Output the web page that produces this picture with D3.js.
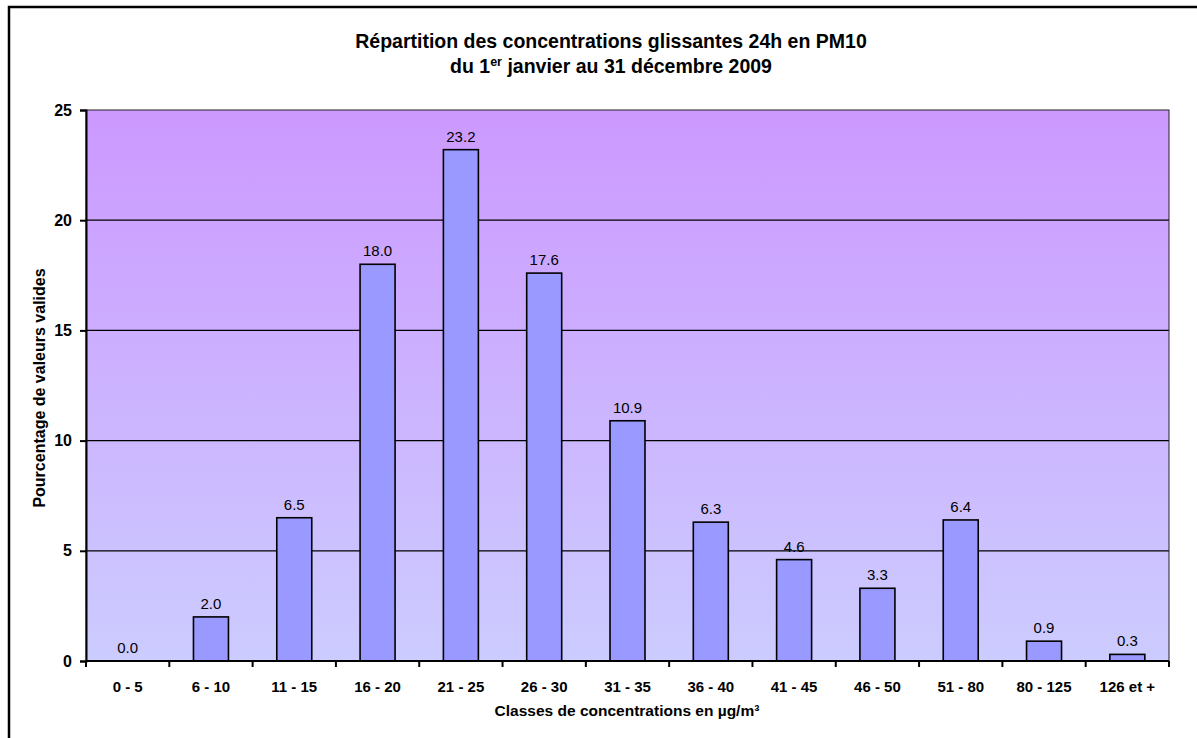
<!DOCTYPE html>
<html>
<head>
<meta charset="utf-8">
<script src="https://cdn.jsdelivr.net/npm/d3@7"></script>
<style>
  html, body { margin: 0; padding: 0; background: #fff; }
  svg { display: block; font-family: "Liberation Sans", Arial, sans-serif; }
</style>
</head>
<body>
<svg id="chart" width="1197" height="738"></svg>
<script>
// Concentration classes (µg/m³) and share of valid 24h sliding values (%)
const categories = ["0 - 5", "6 - 10", "11 - 15", "16 - 20", "21 - 25", "26 - 30",
  "31 - 35", "36 - 40", "41 - 45", "46 - 50", "51 - 80", "80 - 125", "126 et +"];
const percentages = [0.0, 2.0, 6.5, 18.0, 23.2, 17.6, 10.9, 6.3, 4.6, 3.3, 6.4, 0.9, 0.3];
const yTicks = [0, 5, 10, 15, 20, 25];

const svg = d3.select("#chart");
const plot = { left: 86, top: 110, right: 1169, bottom: 661 };

// Outer frame (runs off the right and bottom edges)
svg.append("rect")
  .attr("x", 9).attr("y", 7)
  .attr("width", 1400).attr("height", 1000)
  .attr("fill", "none").attr("stroke", "#000").attr("stroke-width", 2.5);

const x = d3.scaleBand()
  .domain(categories)
  .range([plot.left, plot.right])
  .paddingInner(0.58)
  .paddingOuter(0.29);

const y = d3.scaleLinear()
  .domain([0, 25])
  .range([plot.bottom, plot.top]);

// Plot background: vertical gradient from light lavender to violet
const defs = svg.append("defs");
const grad = defs.append("linearGradient")
  .attr("id", "bg").attr("x1", 0).attr("y1", 1).attr("x2", 0).attr("y2", 0);
grad.append("stop").attr("offset", "0%").attr("stop-color", "#ccccff");
grad.append("stop").attr("offset", "100%").attr("stop-color", "#cc99ff");

svg.append("rect")
  .attr("x", plot.left).attr("y", plot.top)
  .attr("width", plot.right - plot.left)
  .attr("height", plot.bottom - plot.top)
  .attr("fill", "url(#bg)");

// Horizontal gridlines
svg.append("g")
  .selectAll("line")
  .data(yTicks.filter(t => t > 0 && t < 25))
  .join("line")
  .attr("x1", plot.left).attr("x2", plot.right)
  .attr("y1", d => y(d)).attr("y2", d => y(d))
  .attr("stroke", "#000").attr("stroke-width", 1.3);

// Plot area border
svg.append("rect")
  .attr("x", plot.left).attr("y", plot.top)
  .attr("width", plot.right - plot.left)
  .attr("height", plot.bottom - plot.top)
  .attr("fill", "none").attr("stroke", "#222").attr("stroke-width", 1);

// Bars
svg.append("g")
  .selectAll("rect")
  .data(percentages)
  .join("rect")
  .attr("x", (d, i) => x(categories[i]))
  .attr("y", d => y(d))
  .attr("width", x.bandwidth())
  .attr("height", d => plot.bottom - y(d))
  .attr("fill", "#9999ff")
  .attr("stroke", "#000")
  .attr("stroke-width", 1.6);

// Value labels
svg.append("g")
  .selectAll("text")
  .data(percentages)
  .join("text")
  .attr("x", (d, i) => x(categories[i]) + x.bandwidth() / 2)
  .attr("y", d => y(d) - 8)
  .attr("text-anchor", "middle")
  .attr("font-size", 15)
  .attr("fill", "#000")
  .text(d => d.toFixed(1));

// Y axis
const yAxis = svg.append("g")
  .attr("transform", `translate(${plot.left},0)`)
  .call(d3.axisLeft(y).tickValues(yTicks).tickSize(6).tickPadding(8));
yAxis.select(".domain").attr("stroke", "#000").attr("stroke-width", 2);
yAxis.selectAll(".tick line").attr("stroke", "#000").attr("stroke-width", 2);
yAxis.selectAll(".tick text")
  .attr("font-size", 16).attr("font-weight", "bold")
  .attr("font-family", "Liberation Sans, Arial, sans-serif").attr("fill", "#000");

// X axis: ticks sit on the category boundaries
const xAxis = svg.append("g")
  .attr("transform", `translate(0,${plot.bottom})`);
xAxis.append("line")
  .attr("x1", plot.left).attr("x2", plot.right)
  .attr("stroke", "#000").attr("stroke-width", 2);
const step = x.step();
xAxis.selectAll("line.tick")
  .data(d3.range(categories.length + 1))
  .join("line")
  .attr("class", "tick")
  .attr("x1", i => plot.left + i * step).attr("x2", i => plot.left + i * step)
  .attr("y1", 0).attr("y2", 6)
  .attr("stroke", "#000").attr("stroke-width", 2);
xAxis.selectAll("text")
  .data(categories)
  .join("text")
  .attr("x", d => x(d) + x.bandwidth() / 2)
  .attr("y", 31)
  .attr("text-anchor", "middle")
  .attr("font-size", 15).attr("font-weight", "bold")
  .text(d => d);

// Axis titles
svg.append("text")
  .attr("x", 627).attr("y", 716)
  .attr("text-anchor", "middle")
  .attr("font-size", 15.5).attr("font-weight", "bold")
  .text("Classes de concentrations en µg/m³");

svg.append("text")
  .attr("transform", "translate(45,388) rotate(-90)")
  .attr("text-anchor", "middle")
  .attr("font-size", 16).attr("font-weight", "bold")
  .text("Pourcentage de valeurs valides");

// Title
const title = svg.append("text")
  .attr("text-anchor", "middle")
  .attr("font-size", 19.5).attr("font-weight", "bold");
title.append("tspan").attr("x", 611).attr("y", 48)
  .text("Répartition des concentrations glissantes 24h en PM10");
const l2 = title.append("tspan").attr("x", 611).attr("y", 73);
l2.append("tspan").text("du 1");
l2.append("tspan").attr("font-size", 12.5).attr("dy", -7).text("er");
l2.append("tspan").attr("dy", 7).text(" janvier au 31 décembre 2009");
</script>
</body>
</html>
